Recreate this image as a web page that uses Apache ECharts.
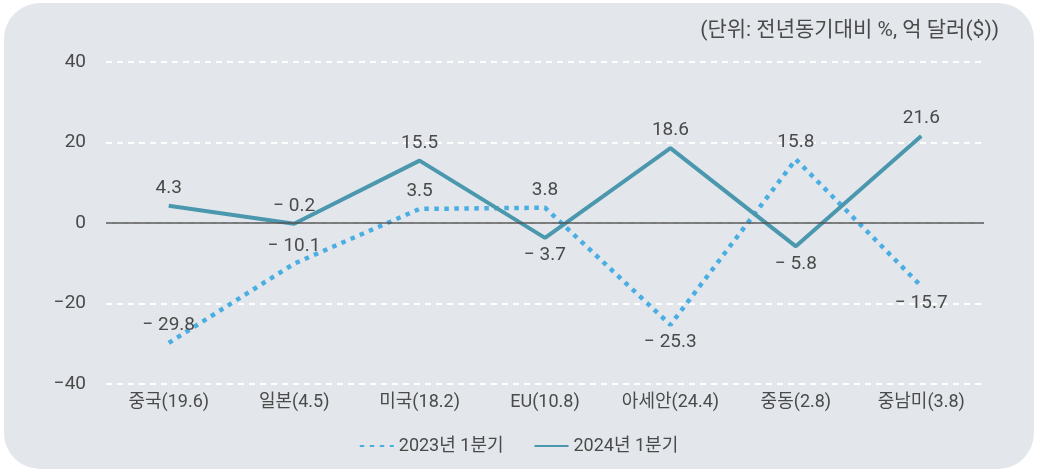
<!DOCTYPE html>
<html>
<head>
<meta charset="utf-8">
<script src="https://cdn.jsdelivr.net/npm/echarts@6/dist/echarts.min.js"></script>
<style>
  html, body { margin: 0; padding: 0; background: #ffffff; }
  #bg { position: absolute; left: 4px; top: 3px; width: 1030px; height: 466px; background: #e3e7eb; border-radius: 36px; }
  #main { position: absolute; left: 0; top: 0; width: 1037px; height: 472px; }
</style>
</head>
<body>
<div id="bg"></div>
<div id="main"></div>
<script>
const categories = ['중국(19.6)', '일본(4.5)', '미국(18.2)', 'EU(10.8)', '아세안(24.4)', '중동(2.8)', '중남미(3.8)'];
const values2023 = [-29.8, -10.1, 3.5, 3.8, -25.3, 15.8, -15.7];
const values2024 = [4.3, -0.2, 15.5, -3.7, 18.6, -5.8, 21.6];
const labelPos2023 = ['top', 'top', 'top', 'top', 'bottom', 'top', 'bottom'];
const labelPos2024 = ['top', 'top', 'top', 'bottom', 'top', 'bottom', 'top'];
const yTicks = [-40, -20, 0, 20, 40];

const font = 'Roboto, "Noto Sans CJK KR", sans-serif';
const textColor = '#4a4a4a';

function fmt(v) {
  return v < 0 ? '\u2212 ' + Math.abs(v) : String(v);
}

function pointData(values, positions) {
  return values.map((v, i) => ({
    value: v,
    label: { position: positions[i] }
  }));
}

const option = {
  animation: false,
  textStyle: { fontFamily: font },
  title: {
    text: '(단위: 전년동기대비 %, 억 달러($))',
    right: 33,
    top: 15,
    textStyle: { fontSize: 21, fontWeight: 'normal', color: textColor, fontFamily: font }
  },
  legend: {
    bottom: 12,
    left: 'center',
    itemWidth: 34,
    itemHeight: 14,
    itemGap: 30,
    itemStyle: { opacity: 0 },
    textStyle: { fontSize: 18, color: textColor, fontFamily: font },
    data: ['2023년 1분기', '2024년 1분기']
  },
  grid: { left: 106, right: 53, top: 62, bottom: 88 },
  xAxis: {
    type: 'category',
    data: categories,
    axisLine: { show: false },
    axisTick: { show: false },
    axisLabel: { fontSize: 18, color: textColor, margin: 10, interval: 0, fontFamily: font }
  },
  yAxis: {
    type: 'value',
    min: yTicks[0],
    max: yTicks[yTicks.length - 1],
    interval: 20,
    axisLine: { show: false },
    axisTick: { show: false },
    axisLabel: {
      fontSize: 19, color: textColor, margin: 20, fontFamily: font,
      formatter: v => (v < 0 ? '\u2212' + Math.abs(v) : String(v))
    },
    splitLine: {
      lineStyle: { color: '#ffffff', width: 2, type: [6, 5] }
    }
  },
  series: [
    {
      name: '2023년 1분기',
      type: 'line',
      data: pointData(values2023, labelPos2023),
      symbol: 'circle',
      symbolSize: 0,
      showSymbol: true,
      lineStyle: { color: '#4aaee2', width: 4.5, type: [4.5, 5.5], cap: 'butt' },
      itemStyle: { color: '#4aaee2' },
      label: {
        show: true, fontSize: 19, color: textColor, distance: 8, fontFamily: font,
        formatter: p => fmt(p.value)
      },
      z: 3
    },
    {
      name: '2024년 1분기',
      type: 'line',
      data: pointData(values2024, labelPos2024),
      symbol: 'circle',
      symbolSize: 0,
      showSymbol: true,
      lineStyle: { color: '#4b98ae', width: 4 },
      itemStyle: { color: '#4b98ae' },
      label: {
        show: true, fontSize: 19, color: textColor, distance: 8, fontFamily: font,
        formatter: p => fmt(p.value)
      },
      markLine: {
        silent: true,
        symbol: 'none',
        label: { show: false },
        lineStyle: { color: '#555555', width: 1.5, type: 'solid' },
        data: [{ yAxis: 0 }]
      },
      z: 4
    }
  ]
};

const myChart = echarts.init(document.getElementById('main'), null, { renderer: 'canvas' });
myChart.setOption(option);
</script>
</body>
</html>
